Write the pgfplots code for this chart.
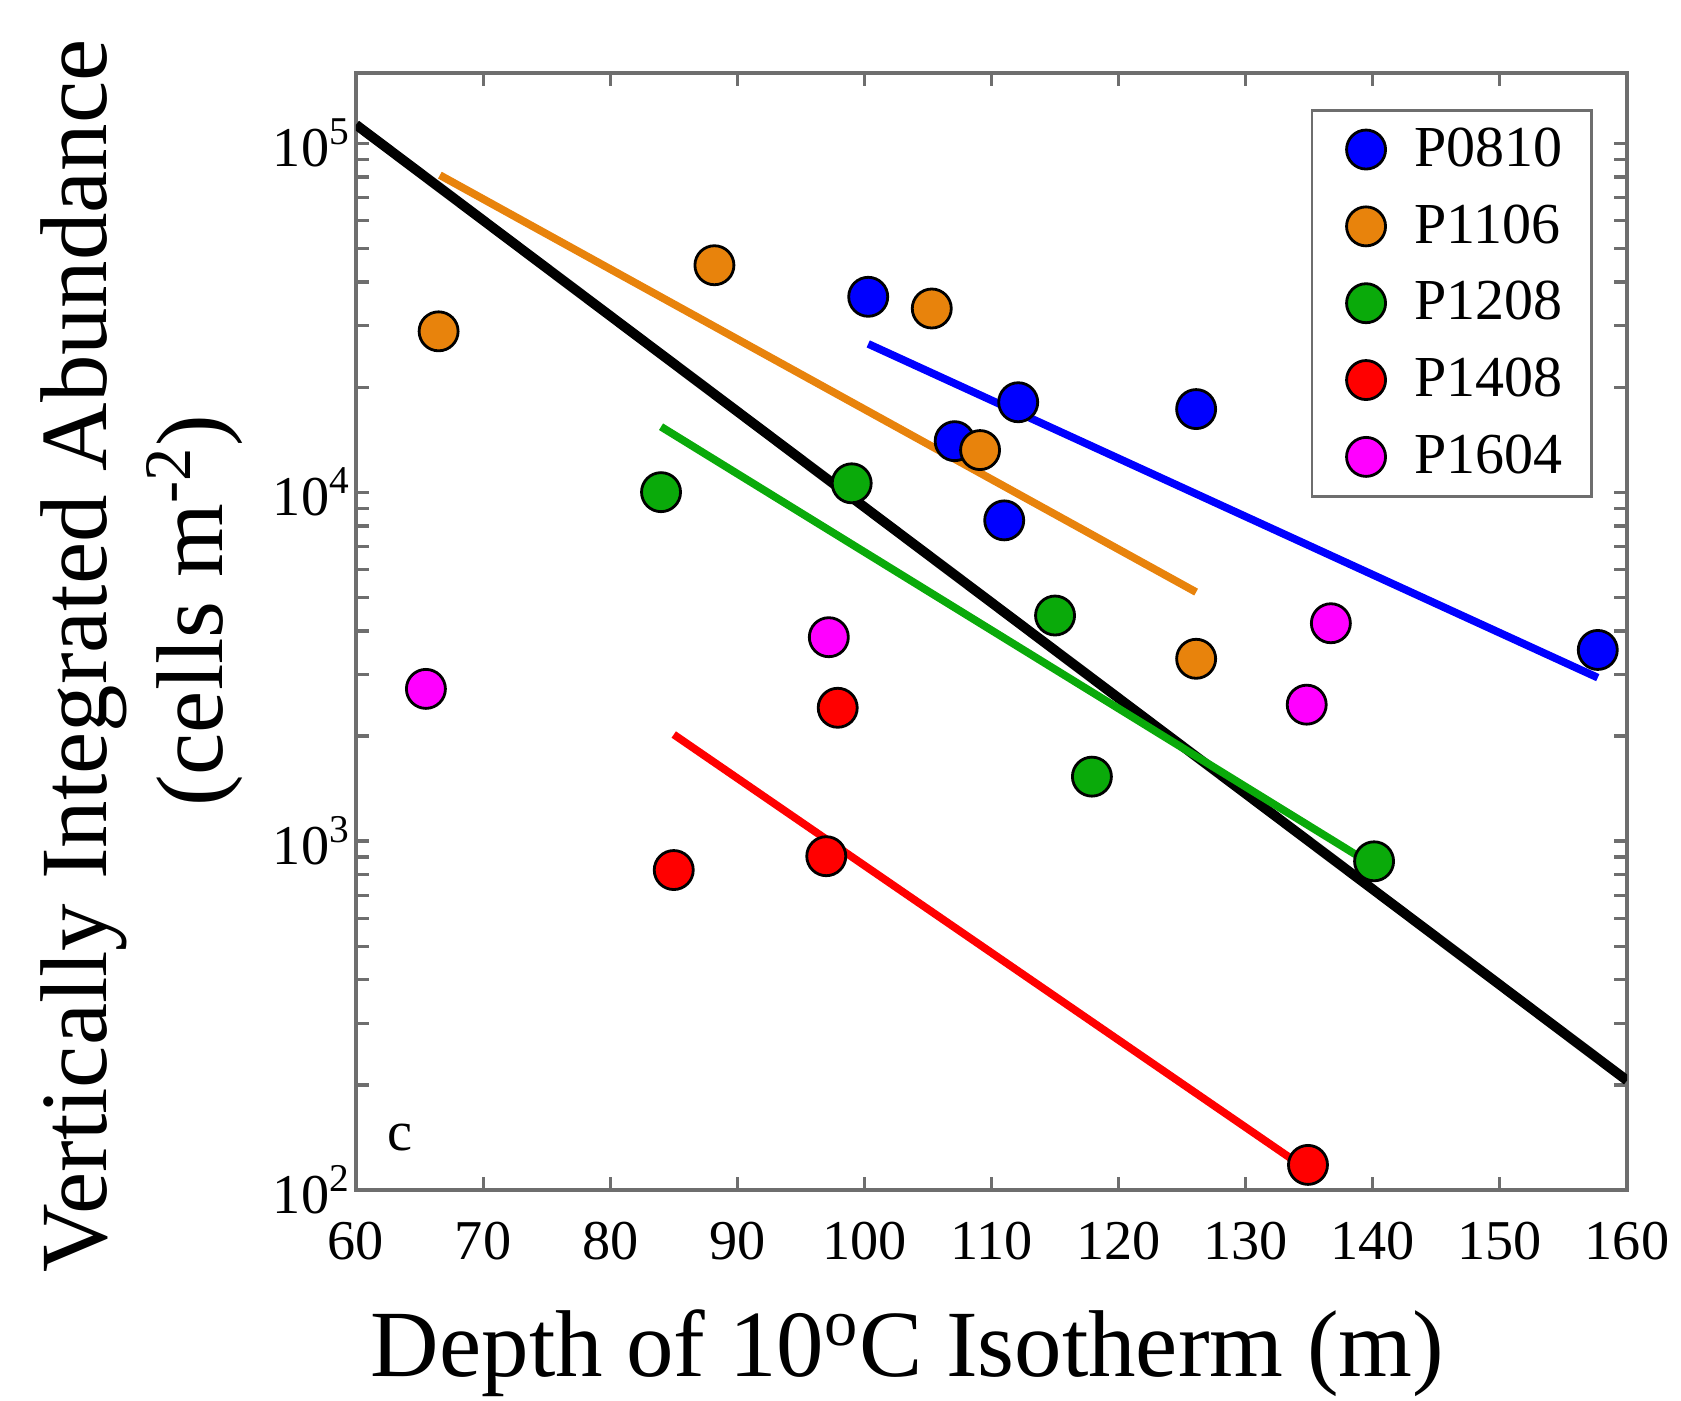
\documentclass[border=0pt]{standalone}
\usepackage{fontspec}
\setmainfont{Liberation Serif}
\usepackage{pgfplots}
\pgfplotsset{compat=1.18}

\definecolor{cblue}{RGB}{0,0,255}
\definecolor{corange}{RGB}{232,131,12}
\definecolor{cgreen}{RGB}{10,170,10}
\definecolor{cred}{RGB}{255,0,0}
\definecolor{cmag}{RGB}{255,0,255}
\definecolor{axgray}{RGB}{110,110,110}

\pgfplotsset{
  dots/.style={only marks, mark=*, mark size=0.195cm,
    mark options={fill=#1, draw=black, line width=0.8pt}},
  fit/.style={forget plot, no marks, draw=#1, line width=2.2pt},
}

\begin{document}
\begin{tikzpicture}
\useasboundingbox (-3.56cm,-2.11cm) rectangle (13.25cm,11.90cm);
\begin{axis}[
  at={(0,0)}, anchor=south west,
  scale only axis, width=12.71cm, height=11.17cm,
  ymode=log,
  xmin=60, xmax=160, ymin=100, ymax=1.59e5,
  xtick={60,70,...,160},
  ytick={100,1000,10000,100000},
  yticklabels={10\textsuperscript{2},10\textsuperscript{3},10\textsuperscript{4},10\textsuperscript{5}},
  minor ytick={200,300,400,500,600,700,800,900,2000,3000,4000,5000,6000,7000,8000,9000,20000,30000,40000,50000,60000,70000,80000,90000},
  /pgf/number format/assume math mode=true,
  ticklabel style={font=\fontsize{16}{19}\selectfont},
  xticklabel style={yshift=-0.2cm},
  yticklabel style={xshift=0.07cm},
  axis line style={draw=axgray, line width=0.9pt},
  tick style={draw=axgray, line width=0.9pt},
  major tick length=0.13cm, minor tick length=0.13cm,
  xlabel={Depth of 10\textsuperscript{o}C Isotherm (m)},
  xlabel style={at={(axis description cs:0.434,-0.1674)}, anchor=base,
    font=\fontsize{27}{32}\selectfont},
  ylabel={Vertically Integrated Abundance},
  ylabel style={at={(axis description cs:-0.196,0.478)}, anchor=base,
    font=\fontsize{27}{32}\selectfont},
  legend image code/.code={
    \path[draw=none] (0cm,0cm) -- (0.73cm,0cm);
    \draw[#1] plot coordinates {(0.25cm,0cm)};
  },
  legend style={at={(axis description cs:0.973,0.968)}, anchor=north east,
    draw=axgray, line width=0.8pt, font=\fontsize{16.5}{20}\selectfont,
    inner xsep=0.29cm, inner ysep=0.01cm, column sep=0cm,
    nodes={inner xsep=0cm, inner ysep=0.165cm}},
  legend cell align=left,
]
% fitted lines
\addplot[fit=black, line width=2.8pt] coordinates {(60,1.13e5) (160,206)};
\addplot[fit=corange] coordinates {(66.6,8.1e4) (126.1,5.17e3)};
\addplot[fit=cblue] coordinates {(100.3,2.66e4) (157.7,2.94e3)};
\addplot[fit=cgreen] coordinates {(84,1.54e4) (140.1,849)};
\addplot[fit=cred] coordinates {(85,2.02e3) (134.9,114)};

% cruises
\addplot[dots=cblue] coordinates {
  (100.3,3.63e4) (107.1,1.40e4) (111.0,8.3e3) (112.1,1.81e4) (126.1,1.73e4) (157.7,3.53e3)};
\addplot[dots=corange] coordinates {
  (66.5,2.89e4) (88.2,4.47e4) (105.3,3.36e4) (109.1,1.32e4) (126.1,3.33e3)};
\addplot[dots=cgreen] coordinates {
  (84.0,1.0e4) (99.0,1.06e4) (115.0,4.43e3) (117.9,1.53e3) (140.1,875)};
\addplot[dots=cred] coordinates {
  (85.0,826) (97.0,905) (97.9,2.41e3) (134.9,118)};
\addplot[dots=cmag] coordinates {
  (65.5,2.73e3) (97.2,3.84e3) (134.8,2.46e3) (136.7,4.21e3)};
\legend{P0810, P1106, P1208, P1408, P1604}

\node[anchor=base west, inner sep=0pt, font=\fontsize{16}{19}\selectfont]
  at (axis cs:62.44,130) {c};
\end{axis}
\node[rotate=90, anchor=base, font=\fontsize{27}{32}\selectfont]
  at (-1.34cm,5.79cm) {(cells m\textsuperscript{-2})};
\end{tikzpicture}
\end{document}
